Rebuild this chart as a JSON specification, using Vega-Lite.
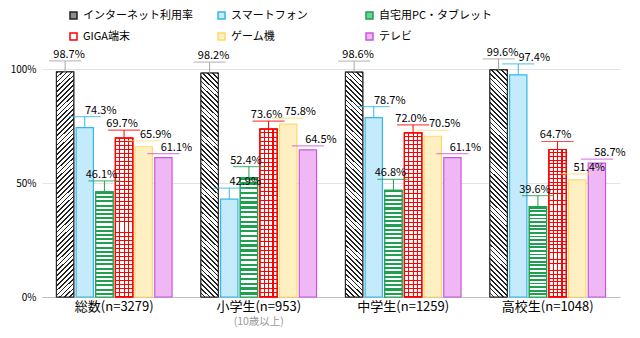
{
  "$schema": "https://vega.github.io/schema/vega-lite/v6.json",
  "autosize": "none",
  "width": 578,
  "height": 228,
  "padding": {"left": 42, "top": 69, "right": 20, "bottom": 41},
  "background": "white",
  "config": {
    "font": "Noto Sans CJK JP",
    "view": {"stroke": null}
  },
  "datasets": {
    "main": [
      {"group": "総数(n=3279)", "series": "インターネット利用率", "value": 98.7},
      {"group": "総数(n=3279)", "series": "スマートフォン", "value": 74.3},
      {"group": "総数(n=3279)", "series": "自宅用PC・タブレット", "value": 46.1},
      {"group": "総数(n=3279)", "series": "GIGA端末", "value": 69.7},
      {"group": "総数(n=3279)", "series": "ゲーム機", "value": 65.9},
      {"group": "総数(n=3279)", "series": "テレビ", "value": 61.1},
      {"group": "小学生(n=953)", "series": "インターネット利用率", "value": 98.2},
      {"group": "小学生(n=953)", "series": "スマートフォン", "value": 42.9},
      {"group": "小学生(n=953)", "series": "自宅用PC・タブレット", "value": 52.4},
      {"group": "小学生(n=953)", "series": "GIGA端末", "value": 73.6},
      {"group": "小学生(n=953)", "series": "ゲーム機", "value": 75.8},
      {"group": "小学生(n=953)", "series": "テレビ", "value": 64.5},
      {"group": "中学生(n=1259)", "series": "インターネット利用率", "value": 98.6},
      {"group": "中学生(n=1259)", "series": "スマートフォン", "value": 78.7},
      {"group": "中学生(n=1259)", "series": "自宅用PC・タブレット", "value": 46.8},
      {"group": "中学生(n=1259)", "series": "GIGA端末", "value": 72.0},
      {"group": "中学生(n=1259)", "series": "ゲーム機", "value": 70.5},
      {"group": "中学生(n=1259)", "series": "テレビ", "value": 61.1},
      {"group": "高校生(n=1048)", "series": "インターネット利用率", "value": 99.6},
      {"group": "高校生(n=1048)", "series": "スマートフォン", "value": 97.4},
      {"group": "高校生(n=1048)", "series": "自宅用PC・タブレット", "value": 39.6},
      {"group": "高校生(n=1048)", "series": "GIGA端末", "value": 64.7},
      {"group": "高校生(n=1048)", "series": "ゲーム機", "value": 51.4},
      {"group": "高校生(n=1048)", "series": "テレビ", "value": 58.7}
    ],
    "notes": [
      {"group": "小学生(n=953)", "note": "(10歳以上)"}
    ]
  },
  "layer": [
    {
      "data": {"name": "main"},
      "mark": {"type": "bar", "strokeWidth": 1.2},
      "encoding": {
        "x": {
          "field": "group", "type": "nominal", "sort": null,
          "scale": {"paddingInner": 0.2, "paddingOuter": 0.1},
          "axis": {"title": null, "labelAngle": 0, "labelFontSize": 13, "labelColor": "#000", "domainColor": "#bfbfbf", "ticks": false, "labelPadding": 3}
        },
        "y": {
          "field": "value", "type": "quantitative",
          "scale": {"domain": [0, 100]},
          "axis": {"title": null, "values": [0, 50, 100], "labelExpr": "datum.value + '%'", "labelFontSize": 10, "labelColor": "#000", "domain": false, "ticks": false, "gridColor": "#e3e3e3", "labelPadding": 6}
        },
        "xOffset": {
          "field": "series", "type": "nominal", "sort": null,
          "scale": {"domain": ["インターネット利用率", "スマートフォン", "自宅用PC・タブレット", "GIGA端末", "ゲーム機", "テレビ"], "paddingInner": 0.12}
        },
        "fill": {
          "field": "series", "type": "nominal", "sort": null,
          "scale": {
            "domain": ["インターネット利用率", "スマートフォン", "自宅用PC・タブレット", "GIGA端末", "ゲーム機", "テレビ"],
            "range": ["#8c8c8c", "#c4ebfb", "#6fcf94", "#ffffff", "#fff0c4", "#efb8f4"]
          },
          "legend": {
            "title": null, "orient": "none", "legendX": 26, "legendY": -59,
            "direction": "horizontal",
            "columns": 3, "columnPadding": 19, "rowPadding": 8,
            "symbolType": "square", "symbolSize": 49, "labelFontSize": 11, "labelOffset": 4,
            "labelColor": "#000", "labelLimit": 200, "gridAlign": "all"
          }
        },
        "stroke": {
          "field": "series", "type": "nominal", "sort": null,
          "scale": {
            "domain": ["インターネット利用率", "スマートフォン", "自宅用PC・タブレット", "GIGA端末", "ゲーム機", "テレビ"],
            "range": ["#222222", "#33b7ea", "#1fa050", "#ff0000", "#ffd966", "#cc55dd"]
          },
          "legend": null
        }
      }
    },
    {
      "data": {"name": "main"},
      "transform": [{"filter": "datum.series === 'インターネット利用率' && datum.group !== '総数(n=3279)'"}],
      "mark": {
        "type": "bar", "stroke": "#222222", "strokeWidth": 1,
        "fill": {
          "gradient": "linear", "x1": 1, "y1": 0, "x2": 0.9191, "y2": 1.0695,
          "stops": [
            {"offset": 0.000, "color": "#222"}, {"offset": 0.007, "color": "#222"}, {"offset": 0.007, "color": "#fff"}, {"offset": 0.020, "color": "#fff"},
            {"offset": 0.020, "color": "#222"}, {"offset": 0.027, "color": "#222"}, {"offset": 0.027, "color": "#fff"}, {"offset": 0.040, "color": "#fff"},
            {"offset": 0.040, "color": "#222"}, {"offset": 0.047, "color": "#222"}, {"offset": 0.047, "color": "#fff"}, {"offset": 0.060, "color": "#fff"},
            {"offset": 0.060, "color": "#222"}, {"offset": 0.067, "color": "#222"}, {"offset": 0.067, "color": "#fff"}, {"offset": 0.080, "color": "#fff"},
            {"offset": 0.080, "color": "#222"}, {"offset": 0.087, "color": "#222"}, {"offset": 0.087, "color": "#fff"}, {"offset": 0.100, "color": "#fff"},
            {"offset": 0.100, "color": "#222"}, {"offset": 0.107, "color": "#222"}, {"offset": 0.107, "color": "#fff"}, {"offset": 0.120, "color": "#fff"},
            {"offset": 0.120, "color": "#222"}, {"offset": 0.127, "color": "#222"}, {"offset": 0.127, "color": "#fff"}, {"offset": 0.140, "color": "#fff"},
            {"offset": 0.140, "color": "#222"}, {"offset": 0.147, "color": "#222"}, {"offset": 0.147, "color": "#fff"}, {"offset": 0.160, "color": "#fff"},
            {"offset": 0.160, "color": "#222"}, {"offset": 0.167, "color": "#222"}, {"offset": 0.167, "color": "#fff"}, {"offset": 0.180, "color": "#fff"},
            {"offset": 0.180, "color": "#222"}, {"offset": 0.187, "color": "#222"}, {"offset": 0.187, "color": "#fff"}, {"offset": 0.200, "color": "#fff"},
            {"offset": 0.200, "color": "#222"}, {"offset": 0.207, "color": "#222"}, {"offset": 0.207, "color": "#fff"}, {"offset": 0.220, "color": "#fff"},
            {"offset": 0.220, "color": "#222"}, {"offset": 0.227, "color": "#222"}, {"offset": 0.227, "color": "#fff"}, {"offset": 0.240, "color": "#fff"},
            {"offset": 0.240, "color": "#222"}, {"offset": 0.247, "color": "#222"}, {"offset": 0.247, "color": "#fff"}, {"offset": 0.260, "color": "#fff"},
            {"offset": 0.260, "color": "#222"}, {"offset": 0.267, "color": "#222"}, {"offset": 0.267, "color": "#fff"}, {"offset": 0.280, "color": "#fff"},
            {"offset": 0.280, "color": "#222"}, {"offset": 0.287, "color": "#222"}, {"offset": 0.287, "color": "#fff"}, {"offset": 0.300, "color": "#fff"},
            {"offset": 0.300, "color": "#222"}, {"offset": 0.307, "color": "#222"}, {"offset": 0.307, "color": "#fff"}, {"offset": 0.320, "color": "#fff"},
            {"offset": 0.320, "color": "#222"}, {"offset": 0.327, "color": "#222"}, {"offset": 0.327, "color": "#fff"}, {"offset": 0.340, "color": "#fff"},
            {"offset": 0.340, "color": "#222"}, {"offset": 0.347, "color": "#222"}, {"offset": 0.347, "color": "#fff"}, {"offset": 0.360, "color": "#fff"},
            {"offset": 0.360, "color": "#222"}, {"offset": 0.367, "color": "#222"}, {"offset": 0.367, "color": "#fff"}, {"offset": 0.380, "color": "#fff"},
            {"offset": 0.380, "color": "#222"}, {"offset": 0.387, "color": "#222"}, {"offset": 0.387, "color": "#fff"}, {"offset": 0.400, "color": "#fff"},
            {"offset": 0.400, "color": "#222"}, {"offset": 0.407, "color": "#222"}, {"offset": 0.407, "color": "#fff"}, {"offset": 0.420, "color": "#fff"},
            {"offset": 0.420, "color": "#222"}, {"offset": 0.427, "color": "#222"}, {"offset": 0.427, "color": "#fff"}, {"offset": 0.440, "color": "#fff"},
            {"offset": 0.440, "color": "#222"}, {"offset": 0.447, "color": "#222"}, {"offset": 0.447, "color": "#fff"}, {"offset": 0.460, "color": "#fff"},
            {"offset": 0.460, "color": "#222"}, {"offset": 0.467, "color": "#222"}, {"offset": 0.467, "color": "#fff"}, {"offset": 0.480, "color": "#fff"},
            {"offset": 0.480, "color": "#222"}, {"offset": 0.487, "color": "#222"}, {"offset": 0.487, "color": "#fff"}, {"offset": 0.500, "color": "#fff"},
            {"offset": 0.500, "color": "#222"}, {"offset": 0.507, "color": "#222"}, {"offset": 0.507, "color": "#fff"}, {"offset": 0.520, "color": "#fff"},
            {"offset": 0.520, "color": "#222"}, {"offset": 0.527, "color": "#222"}, {"offset": 0.527, "color": "#fff"}, {"offset": 0.540, "color": "#fff"},
            {"offset": 0.540, "color": "#222"}, {"offset": 0.547, "color": "#222"}, {"offset": 0.547, "color": "#fff"}, {"offset": 0.560, "color": "#fff"},
            {"offset": 0.560, "color": "#222"}, {"offset": 0.567, "color": "#222"}, {"offset": 0.567, "color": "#fff"}, {"offset": 0.580, "color": "#fff"},
            {"offset": 0.580, "color": "#222"}, {"offset": 0.587, "color": "#222"}, {"offset": 0.587, "color": "#fff"}, {"offset": 0.600, "color": "#fff"},
            {"offset": 0.600, "color": "#222"}, {"offset": 0.607, "color": "#222"}, {"offset": 0.607, "color": "#fff"}, {"offset": 0.620, "color": "#fff"},
            {"offset": 0.620, "color": "#222"}, {"offset": 0.627, "color": "#222"}, {"offset": 0.627, "color": "#fff"}, {"offset": 0.640, "color": "#fff"},
            {"offset": 0.640, "color": "#222"}, {"offset": 0.647, "color": "#222"}, {"offset": 0.647, "color": "#fff"}, {"offset": 0.660, "color": "#fff"},
            {"offset": 0.660, "color": "#222"}, {"offset": 0.667, "color": "#222"}, {"offset": 0.667, "color": "#fff"}, {"offset": 0.680, "color": "#fff"},
            {"offset": 0.680, "color": "#222"}, {"offset": 0.687, "color": "#222"}, {"offset": 0.687, "color": "#fff"}, {"offset": 0.700, "color": "#fff"},
            {"offset": 0.700, "color": "#222"}, {"offset": 0.707, "color": "#222"}, {"offset": 0.707, "color": "#fff"}, {"offset": 0.720, "color": "#fff"},
            {"offset": 0.720, "color": "#222"}, {"offset": 0.727, "color": "#222"}, {"offset": 0.727, "color": "#fff"}, {"offset": 0.740, "color": "#fff"},
            {"offset": 0.740, "color": "#222"}, {"offset": 0.747, "color": "#222"}, {"offset": 0.747, "color": "#fff"}, {"offset": 0.760, "color": "#fff"},
            {"offset": 0.760, "color": "#222"}, {"offset": 0.767, "color": "#222"}, {"offset": 0.767, "color": "#fff"}, {"offset": 0.780, "color": "#fff"},
            {"offset": 0.780, "color": "#222"}, {"offset": 0.787, "color": "#222"}, {"offset": 0.787, "color": "#fff"}, {"offset": 0.800, "color": "#fff"},
            {"offset": 0.800, "color": "#222"}, {"offset": 0.807, "color": "#222"}, {"offset": 0.807, "color": "#fff"}, {"offset": 0.820, "color": "#fff"},
            {"offset": 0.820, "color": "#222"}, {"offset": 0.827, "color": "#222"}, {"offset": 0.827, "color": "#fff"}, {"offset": 0.840, "color": "#fff"},
            {"offset": 0.840, "color": "#222"}, {"offset": 0.847, "color": "#222"}, {"offset": 0.847, "color": "#fff"}, {"offset": 0.860, "color": "#fff"},
            {"offset": 0.860, "color": "#222"}, {"offset": 0.867, "color": "#222"}, {"offset": 0.867, "color": "#fff"}, {"offset": 0.880, "color": "#fff"},
            {"offset": 0.880, "color": "#222"}, {"offset": 0.887, "color": "#222"}, {"offset": 0.887, "color": "#fff"}, {"offset": 0.900, "color": "#fff"},
            {"offset": 0.900, "color": "#222"}, {"offset": 0.907, "color": "#222"}, {"offset": 0.907, "color": "#fff"}, {"offset": 0.920, "color": "#fff"},
            {"offset": 0.920, "color": "#222"}, {"offset": 0.927, "color": "#222"}, {"offset": 0.927, "color": "#fff"}, {"offset": 0.940, "color": "#fff"},
            {"offset": 0.940, "color": "#222"}, {"offset": 0.947, "color": "#222"}, {"offset": 0.947, "color": "#fff"}, {"offset": 0.960, "color": "#fff"},
            {"offset": 0.960, "color": "#222"}, {"offset": 0.967, "color": "#222"}, {"offset": 0.967, "color": "#fff"}, {"offset": 0.980, "color": "#fff"},
            {"offset": 0.980, "color": "#222"}, {"offset": 0.987, "color": "#222"}, {"offset": 0.987, "color": "#fff"}, {"offset": 1.000, "color": "#fff"}
          ]
        }
      },
      "encoding": {
        "x": {"field": "group", "type": "nominal", "sort": null},
        "y": {"field": "value", "type": "quantitative"},
        "xOffset": {"field": "series", "type": "nominal", "sort": null}
      }
    },
    {
      "data": {"name": "main"},
      "transform": [{"filter": "datum.series === 'インターネット利用率' && datum.group === '総数(n=3279)'"}],
      "mark": {
        "type": "bar", "stroke": "#222222", "strokeWidth": 1,
        "fill": {
          "gradient": "linear", "x1": 0, "y1": 0, "x2": 0.0809, "y2": 1.0695,
          "stops": [
            {"offset": 0.000, "color": "#222"}, {"offset": 0.007, "color": "#222"}, {"offset": 0.007, "color": "#fff"}, {"offset": 0.020, "color": "#fff"},
            {"offset": 0.020, "color": "#222"}, {"offset": 0.027, "color": "#222"}, {"offset": 0.027, "color": "#fff"}, {"offset": 0.040, "color": "#fff"},
            {"offset": 0.040, "color": "#222"}, {"offset": 0.047, "color": "#222"}, {"offset": 0.047, "color": "#fff"}, {"offset": 0.060, "color": "#fff"},
            {"offset": 0.060, "color": "#222"}, {"offset": 0.067, "color": "#222"}, {"offset": 0.067, "color": "#fff"}, {"offset": 0.080, "color": "#fff"},
            {"offset": 0.080, "color": "#222"}, {"offset": 0.087, "color": "#222"}, {"offset": 0.087, "color": "#fff"}, {"offset": 0.100, "color": "#fff"},
            {"offset": 0.100, "color": "#222"}, {"offset": 0.107, "color": "#222"}, {"offset": 0.107, "color": "#fff"}, {"offset": 0.120, "color": "#fff"},
            {"offset": 0.120, "color": "#222"}, {"offset": 0.127, "color": "#222"}, {"offset": 0.127, "color": "#fff"}, {"offset": 0.140, "color": "#fff"},
            {"offset": 0.140, "color": "#222"}, {"offset": 0.147, "color": "#222"}, {"offset": 0.147, "color": "#fff"}, {"offset": 0.160, "color": "#fff"},
            {"offset": 0.160, "color": "#222"}, {"offset": 0.167, "color": "#222"}, {"offset": 0.167, "color": "#fff"}, {"offset": 0.180, "color": "#fff"},
            {"offset": 0.180, "color": "#222"}, {"offset": 0.187, "color": "#222"}, {"offset": 0.187, "color": "#fff"}, {"offset": 0.200, "color": "#fff"},
            {"offset": 0.200, "color": "#222"}, {"offset": 0.207, "color": "#222"}, {"offset": 0.207, "color": "#fff"}, {"offset": 0.220, "color": "#fff"},
            {"offset": 0.220, "color": "#222"}, {"offset": 0.227, "color": "#222"}, {"offset": 0.227, "color": "#fff"}, {"offset": 0.240, "color": "#fff"},
            {"offset": 0.240, "color": "#222"}, {"offset": 0.247, "color": "#222"}, {"offset": 0.247, "color": "#fff"}, {"offset": 0.260, "color": "#fff"},
            {"offset": 0.260, "color": "#222"}, {"offset": 0.267, "color": "#222"}, {"offset": 0.267, "color": "#fff"}, {"offset": 0.280, "color": "#fff"},
            {"offset": 0.280, "color": "#222"}, {"offset": 0.287, "color": "#222"}, {"offset": 0.287, "color": "#fff"}, {"offset": 0.300, "color": "#fff"},
            {"offset": 0.300, "color": "#222"}, {"offset": 0.307, "color": "#222"}, {"offset": 0.307, "color": "#fff"}, {"offset": 0.320, "color": "#fff"},
            {"offset": 0.320, "color": "#222"}, {"offset": 0.327, "color": "#222"}, {"offset": 0.327, "color": "#fff"}, {"offset": 0.340, "color": "#fff"},
            {"offset": 0.340, "color": "#222"}, {"offset": 0.347, "color": "#222"}, {"offset": 0.347, "color": "#fff"}, {"offset": 0.360, "color": "#fff"},
            {"offset": 0.360, "color": "#222"}, {"offset": 0.367, "color": "#222"}, {"offset": 0.367, "color": "#fff"}, {"offset": 0.380, "color": "#fff"},
            {"offset": 0.380, "color": "#222"}, {"offset": 0.387, "color": "#222"}, {"offset": 0.387, "color": "#fff"}, {"offset": 0.400, "color": "#fff"},
            {"offset": 0.400, "color": "#222"}, {"offset": 0.407, "color": "#222"}, {"offset": 0.407, "color": "#fff"}, {"offset": 0.420, "color": "#fff"},
            {"offset": 0.420, "color": "#222"}, {"offset": 0.427, "color": "#222"}, {"offset": 0.427, "color": "#fff"}, {"offset": 0.440, "color": "#fff"},
            {"offset": 0.440, "color": "#222"}, {"offset": 0.447, "color": "#222"}, {"offset": 0.447, "color": "#fff"}, {"offset": 0.460, "color": "#fff"},
            {"offset": 0.460, "color": "#222"}, {"offset": 0.467, "color": "#222"}, {"offset": 0.467, "color": "#fff"}, {"offset": 0.480, "color": "#fff"},
            {"offset": 0.480, "color": "#222"}, {"offset": 0.487, "color": "#222"}, {"offset": 0.487, "color": "#fff"}, {"offset": 0.500, "color": "#fff"},
            {"offset": 0.500, "color": "#222"}, {"offset": 0.507, "color": "#222"}, {"offset": 0.507, "color": "#fff"}, {"offset": 0.520, "color": "#fff"},
            {"offset": 0.520, "color": "#222"}, {"offset": 0.527, "color": "#222"}, {"offset": 0.527, "color": "#fff"}, {"offset": 0.540, "color": "#fff"},
            {"offset": 0.540, "color": "#222"}, {"offset": 0.547, "color": "#222"}, {"offset": 0.547, "color": "#fff"}, {"offset": 0.560, "color": "#fff"},
            {"offset": 0.560, "color": "#222"}, {"offset": 0.567, "color": "#222"}, {"offset": 0.567, "color": "#fff"}, {"offset": 0.580, "color": "#fff"},
            {"offset": 0.580, "color": "#222"}, {"offset": 0.587, "color": "#222"}, {"offset": 0.587, "color": "#fff"}, {"offset": 0.600, "color": "#fff"},
            {"offset": 0.600, "color": "#222"}, {"offset": 0.607, "color": "#222"}, {"offset": 0.607, "color": "#fff"}, {"offset": 0.620, "color": "#fff"},
            {"offset": 0.620, "color": "#222"}, {"offset": 0.627, "color": "#222"}, {"offset": 0.627, "color": "#fff"}, {"offset": 0.640, "color": "#fff"},
            {"offset": 0.640, "color": "#222"}, {"offset": 0.647, "color": "#222"}, {"offset": 0.647, "color": "#fff"}, {"offset": 0.660, "color": "#fff"},
            {"offset": 0.660, "color": "#222"}, {"offset": 0.667, "color": "#222"}, {"offset": 0.667, "color": "#fff"}, {"offset": 0.680, "color": "#fff"},
            {"offset": 0.680, "color": "#222"}, {"offset": 0.687, "color": "#222"}, {"offset": 0.687, "color": "#fff"}, {"offset": 0.700, "color": "#fff"},
            {"offset": 0.700, "color": "#222"}, {"offset": 0.707, "color": "#222"}, {"offset": 0.707, "color": "#fff"}, {"offset": 0.720, "color": "#fff"},
            {"offset": 0.720, "color": "#222"}, {"offset": 0.727, "color": "#222"}, {"offset": 0.727, "color": "#fff"}, {"offset": 0.740, "color": "#fff"},
            {"offset": 0.740, "color": "#222"}, {"offset": 0.747, "color": "#222"}, {"offset": 0.747, "color": "#fff"}, {"offset": 0.760, "color": "#fff"},
            {"offset": 0.760, "color": "#222"}, {"offset": 0.767, "color": "#222"}, {"offset": 0.767, "color": "#fff"}, {"offset": 0.780, "color": "#fff"},
            {"offset": 0.780, "color": "#222"}, {"offset": 0.787, "color": "#222"}, {"offset": 0.787, "color": "#fff"}, {"offset": 0.800, "color": "#fff"},
            {"offset": 0.800, "color": "#222"}, {"offset": 0.807, "color": "#222"}, {"offset": 0.807, "color": "#fff"}, {"offset": 0.820, "color": "#fff"},
            {"offset": 0.820, "color": "#222"}, {"offset": 0.827, "color": "#222"}, {"offset": 0.827, "color": "#fff"}, {"offset": 0.840, "color": "#fff"},
            {"offset": 0.840, "color": "#222"}, {"offset": 0.847, "color": "#222"}, {"offset": 0.847, "color": "#fff"}, {"offset": 0.860, "color": "#fff"},
            {"offset": 0.860, "color": "#222"}, {"offset": 0.867, "color": "#222"}, {"offset": 0.867, "color": "#fff"}, {"offset": 0.880, "color": "#fff"},
            {"offset": 0.880, "color": "#222"}, {"offset": 0.887, "color": "#222"}, {"offset": 0.887, "color": "#fff"}, {"offset": 0.900, "color": "#fff"},
            {"offset": 0.900, "color": "#222"}, {"offset": 0.907, "color": "#222"}, {"offset": 0.907, "color": "#fff"}, {"offset": 0.920, "color": "#fff"},
            {"offset": 0.920, "color": "#222"}, {"offset": 0.927, "color": "#222"}, {"offset": 0.927, "color": "#fff"}, {"offset": 0.940, "color": "#fff"},
            {"offset": 0.940, "color": "#222"}, {"offset": 0.947, "color": "#222"}, {"offset": 0.947, "color": "#fff"}, {"offset": 0.960, "color": "#fff"},
            {"offset": 0.960, "color": "#222"}, {"offset": 0.967, "color": "#222"}, {"offset": 0.967, "color": "#fff"}, {"offset": 0.980, "color": "#fff"},
            {"offset": 0.980, "color": "#222"}, {"offset": 0.987, "color": "#222"}, {"offset": 0.987, "color": "#fff"}, {"offset": 1.000, "color": "#fff"}
          ]
        }
      },
      "encoding": {
        "x": {"field": "group", "type": "nominal", "sort": null},
        "y": {"field": "value", "type": "quantitative"},
        "xOffset": {"field": "series", "type": "nominal", "sort": null}
      }
    },
    {
      "data": {"name": "main"},
      "transform": [{"filter": "datum.series === '自宅用PC・タブレット'"}],
      "mark": {
        "type": "bar", "stroke": "#1fa050", "strokeWidth": 1.2,
        "fill": {
          "gradient": "linear", "x1": 0, "y1": 0, "x2": 0, "y2": 1,
          "stops": [
            {"offset": 0.0, "color": "#1fa050"}, {"offset": 0.02, "color": "#1fa050"}, {"offset": 0.02, "color": "#ffffff"}, {"offset": 0.04, "color": "#ffffff"},
            {"offset": 0.04, "color": "#1fa050"}, {"offset": 0.06, "color": "#1fa050"}, {"offset": 0.06, "color": "#ffffff"}, {"offset": 0.08, "color": "#ffffff"},
            {"offset": 0.08, "color": "#1fa050"}, {"offset": 0.10, "color": "#1fa050"}, {"offset": 0.10, "color": "#ffffff"}, {"offset": 0.12, "color": "#ffffff"},
            {"offset": 0.12, "color": "#1fa050"}, {"offset": 0.14, "color": "#1fa050"}, {"offset": 0.14, "color": "#ffffff"}, {"offset": 0.16, "color": "#ffffff"},
            {"offset": 0.16, "color": "#1fa050"}, {"offset": 0.18, "color": "#1fa050"}, {"offset": 0.18, "color": "#ffffff"}, {"offset": 0.20, "color": "#ffffff"},
            {"offset": 0.20, "color": "#1fa050"}, {"offset": 0.22, "color": "#1fa050"}, {"offset": 0.22, "color": "#ffffff"}, {"offset": 0.24, "color": "#ffffff"},
            {"offset": 0.24, "color": "#1fa050"}, {"offset": 0.26, "color": "#1fa050"}, {"offset": 0.26, "color": "#ffffff"}, {"offset": 0.28, "color": "#ffffff"},
            {"offset": 0.28, "color": "#1fa050"}, {"offset": 0.30, "color": "#1fa050"}, {"offset": 0.30, "color": "#ffffff"}, {"offset": 0.32, "color": "#ffffff"},
            {"offset": 0.32, "color": "#1fa050"}, {"offset": 0.34, "color": "#1fa050"}, {"offset": 0.34, "color": "#ffffff"}, {"offset": 0.36, "color": "#ffffff"},
            {"offset": 0.36, "color": "#1fa050"}, {"offset": 0.38, "color": "#1fa050"}, {"offset": 0.38, "color": "#ffffff"}, {"offset": 0.40, "color": "#ffffff"},
            {"offset": 0.40, "color": "#1fa050"}, {"offset": 0.42, "color": "#1fa050"}, {"offset": 0.42, "color": "#ffffff"}, {"offset": 0.44, "color": "#ffffff"},
            {"offset": 0.44, "color": "#1fa050"}, {"offset": 0.46, "color": "#1fa050"}, {"offset": 0.46, "color": "#ffffff"}, {"offset": 0.48, "color": "#ffffff"},
            {"offset": 0.48, "color": "#1fa050"}, {"offset": 0.50, "color": "#1fa050"}, {"offset": 0.50, "color": "#ffffff"}, {"offset": 0.52, "color": "#ffffff"},
            {"offset": 0.52, "color": "#1fa050"}, {"offset": 0.54, "color": "#1fa050"}, {"offset": 0.54, "color": "#ffffff"}, {"offset": 0.56, "color": "#ffffff"},
            {"offset": 0.56, "color": "#1fa050"}, {"offset": 0.58, "color": "#1fa050"}, {"offset": 0.58, "color": "#ffffff"}, {"offset": 0.60, "color": "#ffffff"},
            {"offset": 0.60, "color": "#1fa050"}, {"offset": 0.62, "color": "#1fa050"}, {"offset": 0.62, "color": "#ffffff"}, {"offset": 0.64, "color": "#ffffff"},
            {"offset": 0.64, "color": "#1fa050"}, {"offset": 0.66, "color": "#1fa050"}, {"offset": 0.66, "color": "#ffffff"}, {"offset": 0.68, "color": "#ffffff"},
            {"offset": 0.68, "color": "#1fa050"}, {"offset": 0.70, "color": "#1fa050"}, {"offset": 0.70, "color": "#ffffff"}, {"offset": 0.72, "color": "#ffffff"},
            {"offset": 0.72, "color": "#1fa050"}, {"offset": 0.74, "color": "#1fa050"}, {"offset": 0.74, "color": "#ffffff"}, {"offset": 0.76, "color": "#ffffff"},
            {"offset": 0.76, "color": "#1fa050"}, {"offset": 0.78, "color": "#1fa050"}, {"offset": 0.78, "color": "#ffffff"}, {"offset": 0.80, "color": "#ffffff"},
            {"offset": 0.80, "color": "#1fa050"}, {"offset": 0.82, "color": "#1fa050"}, {"offset": 0.82, "color": "#ffffff"}, {"offset": 0.84, "color": "#ffffff"},
            {"offset": 0.84, "color": "#1fa050"}, {"offset": 0.86, "color": "#1fa050"}, {"offset": 0.86, "color": "#ffffff"}, {"offset": 0.88, "color": "#ffffff"},
            {"offset": 0.88, "color": "#1fa050"}, {"offset": 0.90, "color": "#1fa050"}, {"offset": 0.90, "color": "#ffffff"}, {"offset": 0.92, "color": "#ffffff"},
            {"offset": 0.92, "color": "#1fa050"}, {"offset": 0.94, "color": "#1fa050"}, {"offset": 0.94, "color": "#ffffff"}, {"offset": 0.96, "color": "#ffffff"},
            {"offset": 0.96, "color": "#1fa050"}, {"offset": 0.98, "color": "#1fa050"}, {"offset": 0.98, "color": "#ffffff"}, {"offset": 1.0, "color": "#ffffff"}
          ]
        }
      },
      "encoding": {
        "x": {"field": "group", "type": "nominal", "sort": null},
        "y": {"field": "value", "type": "quantitative"},
        "xOffset": {"field": "series", "type": "nominal", "sort": null}
      }
    },
    {
      "data": {"name": "main"},
      "transform": [{"filter": "datum.series === 'GIGA端末'"}],
      "mark": {
        "type": "bar", "stroke": "#ff0000", "strokeWidth": 1.2,
        "fill": {
          "gradient": "linear", "x1": 0, "y1": 0, "x2": 1, "y2": 0,
          "stops": [
            {"offset": 0.0, "color": "#ffffff"}, {"offset": 0.22, "color": "#ffffff"}, {"offset": 0.22, "color": "#ff0000"}, {"offset": 0.29, "color": "#ff0000"},
            {"offset": 0.29, "color": "#ffffff"}, {"offset": 0.47, "color": "#ffffff"}, {"offset": 0.47, "color": "#ff0000"}, {"offset": 0.54, "color": "#ff0000"},
            {"offset": 0.54, "color": "#ffffff"}, {"offset": 0.72, "color": "#ffffff"}, {"offset": 0.72, "color": "#ff0000"}, {"offset": 0.79, "color": "#ff0000"},
            {"offset": 0.79, "color": "#ffffff"}, {"offset": 1.0, "color": "#ffffff"}
          ]
        }
      },
      "encoding": {
        "x": {"field": "group", "type": "nominal", "sort": null},
        "y": {"field": "value", "type": "quantitative"},
        "xOffset": {"field": "series", "type": "nominal", "sort": null}
      }
    },
    {
      "data": {"name": "main"},
      "transform": [{"filter": "datum.series === 'GIGA端末'"}],
      "mark": {
        "type": "bar", "stroke": "#ff0000", "strokeWidth": 1.2,
        "fill": {
          "gradient": "linear", "x1": 0, "y1": 0, "x2": 0, "y2": 1,
          "stops": [
            {"offset": 0.000, "color": "rgba(255,0,0,0)"}, {"offset": 0.019, "color": "rgba(255,0,0,0)"}, {"offset": 0.019, "color": "#ff0000"}, {"offset": 0.025, "color": "#ff0000"},
            {"offset": 0.025, "color": "rgba(255,0,0,0)"}, {"offset": 0.044, "color": "rgba(255,0,0,0)"}, {"offset": 0.044, "color": "#ff0000"}, {"offset": 0.050, "color": "#ff0000"},
            {"offset": 0.050, "color": "rgba(255,0,0,0)"}, {"offset": 0.069, "color": "rgba(255,0,0,0)"}, {"offset": 0.069, "color": "#ff0000"}, {"offset": 0.075, "color": "#ff0000"},
            {"offset": 0.075, "color": "rgba(255,0,0,0)"}, {"offset": 0.094, "color": "rgba(255,0,0,0)"}, {"offset": 0.094, "color": "#ff0000"}, {"offset": 0.100, "color": "#ff0000"},
            {"offset": 0.100, "color": "rgba(255,0,0,0)"}, {"offset": 0.119, "color": "rgba(255,0,0,0)"}, {"offset": 0.119, "color": "#ff0000"}, {"offset": 0.125, "color": "#ff0000"},
            {"offset": 0.125, "color": "rgba(255,0,0,0)"}, {"offset": 0.144, "color": "rgba(255,0,0,0)"}, {"offset": 0.144, "color": "#ff0000"}, {"offset": 0.150, "color": "#ff0000"},
            {"offset": 0.150, "color": "rgba(255,0,0,0)"}, {"offset": 0.169, "color": "rgba(255,0,0,0)"}, {"offset": 0.169, "color": "#ff0000"}, {"offset": 0.175, "color": "#ff0000"},
            {"offset": 0.175, "color": "rgba(255,0,0,0)"}, {"offset": 0.194, "color": "rgba(255,0,0,0)"}, {"offset": 0.194, "color": "#ff0000"}, {"offset": 0.200, "color": "#ff0000"},
            {"offset": 0.200, "color": "rgba(255,0,0,0)"}, {"offset": 0.219, "color": "rgba(255,0,0,0)"}, {"offset": 0.219, "color": "#ff0000"}, {"offset": 0.225, "color": "#ff0000"},
            {"offset": 0.225, "color": "rgba(255,0,0,0)"}, {"offset": 0.244, "color": "rgba(255,0,0,0)"}, {"offset": 0.244, "color": "#ff0000"}, {"offset": 0.250, "color": "#ff0000"},
            {"offset": 0.250, "color": "rgba(255,0,0,0)"}, {"offset": 0.269, "color": "rgba(255,0,0,0)"}, {"offset": 0.269, "color": "#ff0000"}, {"offset": 0.275, "color": "#ff0000"},
            {"offset": 0.275, "color": "rgba(255,0,0,0)"}, {"offset": 0.294, "color": "rgba(255,0,0,0)"}, {"offset": 0.294, "color": "#ff0000"}, {"offset": 0.300, "color": "#ff0000"},
            {"offset": 0.300, "color": "rgba(255,0,0,0)"}, {"offset": 0.319, "color": "rgba(255,0,0,0)"}, {"offset": 0.319, "color": "#ff0000"}, {"offset": 0.325, "color": "#ff0000"},
            {"offset": 0.325, "color": "rgba(255,0,0,0)"}, {"offset": 0.344, "color": "rgba(255,0,0,0)"}, {"offset": 0.344, "color": "#ff0000"}, {"offset": 0.350, "color": "#ff0000"},
            {"offset": 0.350, "color": "rgba(255,0,0,0)"}, {"offset": 0.369, "color": "rgba(255,0,0,0)"}, {"offset": 0.369, "color": "#ff0000"}, {"offset": 0.375, "color": "#ff0000"},
            {"offset": 0.375, "color": "rgba(255,0,0,0)"}, {"offset": 0.394, "color": "rgba(255,0,0,0)"}, {"offset": 0.394, "color": "#ff0000"}, {"offset": 0.400, "color": "#ff0000"},
            {"offset": 0.400, "color": "rgba(255,0,0,0)"}, {"offset": 0.419, "color": "rgba(255,0,0,0)"}, {"offset": 0.419, "color": "#ff0000"}, {"offset": 0.425, "color": "#ff0000"},
            {"offset": 0.425, "color": "rgba(255,0,0,0)"}, {"offset": 0.444, "color": "rgba(255,0,0,0)"}, {"offset": 0.444, "color": "#ff0000"}, {"offset": 0.450, "color": "#ff0000"},
            {"offset": 0.450, "color": "rgba(255,0,0,0)"}, {"offset": 0.469, "color": "rgba(255,0,0,0)"}, {"offset": 0.469, "color": "#ff0000"}, {"offset": 0.475, "color": "#ff0000"},
            {"offset": 0.475, "color": "rgba(255,0,0,0)"}, {"offset": 0.494, "color": "rgba(255,0,0,0)"}, {"offset": 0.494, "color": "#ff0000"}, {"offset": 0.500, "color": "#ff0000"},
            {"offset": 0.500, "color": "rgba(255,0,0,0)"}, {"offset": 0.519, "color": "rgba(255,0,0,0)"}, {"offset": 0.519, "color": "#ff0000"}, {"offset": 0.525, "color": "#ff0000"},
            {"offset": 0.525, "color": "rgba(255,0,0,0)"}, {"offset": 0.544, "color": "rgba(255,0,0,0)"}, {"offset": 0.544, "color": "#ff0000"}, {"offset": 0.550, "color": "#ff0000"},
            {"offset": 0.550, "color": "rgba(255,0,0,0)"}, {"offset": 0.569, "color": "rgba(255,0,0,0)"}, {"offset": 0.569, "color": "#ff0000"}, {"offset": 0.575, "color": "#ff0000"},
            {"offset": 0.575, "color": "rgba(255,0,0,0)"}, {"offset": 0.594, "color": "rgba(255,0,0,0)"}, {"offset": 0.594, "color": "#ff0000"}, {"offset": 0.600, "color": "#ff0000"},
            {"offset": 0.600, "color": "rgba(255,0,0,0)"}, {"offset": 0.619, "color": "rgba(255,0,0,0)"}, {"offset": 0.619, "color": "#ff0000"}, {"offset": 0.625, "color": "#ff0000"},
            {"offset": 0.625, "color": "rgba(255,0,0,0)"}, {"offset": 0.644, "color": "rgba(255,0,0,0)"}, {"offset": 0.644, "color": "#ff0000"}, {"offset": 0.650, "color": "#ff0000"},
            {"offset": 0.650, "color": "rgba(255,0,0,0)"}, {"offset": 0.669, "color": "rgba(255,0,0,0)"}, {"offset": 0.669, "color": "#ff0000"}, {"offset": 0.675, "color": "#ff0000"},
            {"offset": 0.675, "color": "rgba(255,0,0,0)"}, {"offset": 0.694, "color": "rgba(255,0,0,0)"}, {"offset": 0.694, "color": "#ff0000"}, {"offset": 0.700, "color": "#ff0000"},
            {"offset": 0.700, "color": "rgba(255,0,0,0)"}, {"offset": 0.719, "color": "rgba(255,0,0,0)"}, {"offset": 0.719, "color": "#ff0000"}, {"offset": 0.725, "color": "#ff0000"},
            {"offset": 0.725, "color": "rgba(255,0,0,0)"}, {"offset": 0.744, "color": "rgba(255,0,0,0)"}, {"offset": 0.744, "color": "#ff0000"}, {"offset": 0.750, "color": "#ff0000"},
            {"offset": 0.750, "color": "rgba(255,0,0,0)"}, {"offset": 0.769, "color": "rgba(255,0,0,0)"}, {"offset": 0.769, "color": "#ff0000"}, {"offset": 0.775, "color": "#ff0000"},
            {"offset": 0.775, "color": "rgba(255,0,0,0)"}, {"offset": 0.794, "color": "rgba(255,0,0,0)"}, {"offset": 0.794, "color": "#ff0000"}, {"offset": 0.800, "color": "#ff0000"},
            {"offset": 0.800, "color": "rgba(255,0,0,0)"}, {"offset": 0.819, "color": "rgba(255,0,0,0)"}, {"offset": 0.819, "color": "#ff0000"}, {"offset": 0.825, "color": "#ff0000"},
            {"offset": 0.825, "color": "rgba(255,0,0,0)"}, {"offset": 0.844, "color": "rgba(255,0,0,0)"}, {"offset": 0.844, "color": "#ff0000"}, {"offset": 0.850, "color": "#ff0000"},
            {"offset": 0.850, "color": "rgba(255,0,0,0)"}, {"offset": 0.869, "color": "rgba(255,0,0,0)"}, {"offset": 0.869, "color": "#ff0000"}, {"offset": 0.875, "color": "#ff0000"},
            {"offset": 0.875, "color": "rgba(255,0,0,0)"}, {"offset": 0.894, "color": "rgba(255,0,0,0)"}, {"offset": 0.894, "color": "#ff0000"}, {"offset": 0.900, "color": "#ff0000"},
            {"offset": 0.900, "color": "rgba(255,0,0,0)"}, {"offset": 0.919, "color": "rgba(255,0,0,0)"}, {"offset": 0.919, "color": "#ff0000"}, {"offset": 0.925, "color": "#ff0000"},
            {"offset": 0.925, "color": "rgba(255,0,0,0)"}, {"offset": 0.944, "color": "rgba(255,0,0,0)"}, {"offset": 0.944, "color": "#ff0000"}, {"offset": 0.950, "color": "#ff0000"},
            {"offset": 0.950, "color": "rgba(255,0,0,0)"}, {"offset": 0.969, "color": "rgba(255,0,0,0)"}, {"offset": 0.969, "color": "#ff0000"}, {"offset": 0.975, "color": "#ff0000"},
            {"offset": 0.975, "color": "rgba(255,0,0,0)"}, {"offset": 0.994, "color": "rgba(255,0,0,0)"}, {"offset": 0.994, "color": "#ff0000"}, {"offset": 1.000, "color": "#ff0000"}
          ]
        }
      },
      "encoding": {
        "x": {"field": "group", "type": "nominal", "sort": null},
        "y": {"field": "value", "type": "quantitative"},
        "xOffset": {"field": "series", "type": "nominal", "sort": null}
      }
    },
    {
      "data": {"name": "main"},
      "transform": [{"filter": "datum.series === 'インターネット利用率'"}, {"calculate": "format(datum.value, '.1f') + '%'", "as": "label"}],
      "encoding": {
        "x": {"field": "group", "type": "nominal", "sort": null},
        "y": {"field": "value", "type": "quantitative"},
        "xOffset": {"field": "series", "type": "nominal", "sort": null}
      },
      "layer": [
        {"mark": {"type": "rule", "color": "#a6a6a6", "strokeWidth": 1, "y2Offset": -11}, "encoding": {"y2": {"field": "value"}}},
        {"mark": {"type": "tick", "color": "#a6a6a6", "size": 32, "thickness": 1.2, "xOffset": 4, "yOffset": -11}, "encoding": {}},
        {"mark": {"type": "text", "baseline": "middle", "dx": 4, "dy": -17, "fontSize": 11, "color": "#000"}, "encoding": {"text": {"field": "label"}}}
      ]
    },
    {
      "data": {"name": "main"},
      "transform": [{"filter": "datum.series === 'スマートフォン'"}, {"calculate": "format(datum.value, '.1f') + '%'", "as": "label"}],
      "encoding": {
        "x": {"field": "group", "type": "nominal", "sort": null},
        "y": {"field": "value", "type": "quantitative"},
        "xOffset": {"field": "series", "type": "nominal", "sort": null}
      },
      "layer": [
        {"mark": {"type": "rule", "color": "#33b7ea", "strokeWidth": 1, "y2Offset": -11}, "encoding": {"y2": {"field": "value"}}},
        {"mark": {"type": "tick", "color": "#33b7ea", "size": 32, "thickness": 1.2, "xOffset": 16, "yOffset": -11}, "encoding": {}},
        {"mark": {"type": "text", "baseline": "middle", "dx": 16, "dy": -17, "fontSize": 11, "color": "#000"}, "encoding": {"text": {"field": "label"}}}
      ]
    },
    {
      "data": {"name": "main"},
      "transform": [{"filter": "datum.series === '自宅用PC・タブレット'"}, {"calculate": "format(datum.value, '.1f') + '%'", "as": "label"}],
      "encoding": {
        "x": {"field": "group", "type": "nominal", "sort": null},
        "y": {"field": "value", "type": "quantitative"},
        "xOffset": {"field": "series", "type": "nominal", "sort": null}
      },
      "layer": [
        {"mark": {"type": "rule", "color": "#1fa050", "strokeWidth": 1, "y2Offset": -11}, "encoding": {"y2": {"field": "value"}}},
        {"mark": {"type": "tick", "color": "#1fa050", "size": 32, "thickness": 1.2, "xOffset": -3, "yOffset": -11}, "encoding": {}},
        {"mark": {"type": "text", "baseline": "middle", "dx": -3, "dy": -17, "fontSize": 11, "color": "#000"}, "encoding": {"text": {"field": "label"}}}
      ]
    },
    {
      "data": {"name": "main"},
      "transform": [{"filter": "datum.series === 'GIGA端末'"}, {"calculate": "format(datum.value, '.1f') + '%'", "as": "label"}],
      "encoding": {
        "x": {"field": "group", "type": "nominal", "sort": null},
        "y": {"field": "value", "type": "quantitative"},
        "xOffset": {"field": "series", "type": "nominal", "sort": null}
      },
      "layer": [
        {"mark": {"type": "rule", "color": "#ff0000", "strokeWidth": 1, "y2Offset": -8}, "encoding": {"y2": {"field": "value"}}},
        {"mark": {"type": "tick", "color": "#ff0000", "size": 32, "thickness": 1.2, "xOffset": -2, "yOffset": -8}, "encoding": {}},
        {"mark": {"type": "text", "baseline": "middle", "dx": -2, "dy": -14, "fontSize": 11, "color": "#000"}, "encoding": {"text": {"field": "label"}}}
      ]
    },
    {
      "data": {"name": "main"},
      "transform": [{"filter": "datum.series === 'ゲーム機'"}, {"calculate": "format(datum.value, '.1f') + '%'", "as": "label"}],
      "encoding": {
        "x": {"field": "group", "type": "nominal", "sort": null},
        "y": {"field": "value", "type": "quantitative"},
        "xOffset": {"field": "series", "type": "nominal", "sort": null}
      },
      "layer": [
        {"mark": {"type": "tick", "color": "#ffd966", "size": 32, "thickness": 1.2, "xOffset": 12, "yOffset": -6}, "encoding": {}},
        {"mark": {"type": "text", "baseline": "middle", "dx": 12, "dy": -12, "fontSize": 11, "color": "#000"}, "encoding": {"text": {"field": "label"}}}
      ]
    },
    {
      "data": {"name": "main"},
      "transform": [{"filter": "datum.series === 'テレビ'"}, {"calculate": "format(datum.value, '.1f') + '%'", "as": "label"}],
      "encoding": {
        "x": {"field": "group", "type": "nominal", "sort": null},
        "y": {"field": "value", "type": "quantitative"},
        "xOffset": {"field": "series", "type": "nominal", "sort": null}
      },
      "layer": [
        {"mark": {"type": "tick", "color": "#cc55dd", "size": 32, "thickness": 1.2, "xOffset": 13, "yOffset": -4}, "encoding": {}},
        {"mark": {"type": "text", "baseline": "middle", "dx": 13, "dy": -10, "fontSize": 11, "color": "#000"}, "encoding": {"text": {"field": "label"}}}
      ]
    },
    {
      "data": {"name": "notes"},
      "mark": {"type": "text", "baseline": "middle", "dy": 25, "fontSize": 10.5, "color": "#999999", "clip": false},
      "encoding": {
        "x": {"field": "group", "type": "nominal", "sort": null},
        "y": {"datum": 0},
        "text": {"field": "note", "type": "nominal"}
      }
    }
  ]
}
